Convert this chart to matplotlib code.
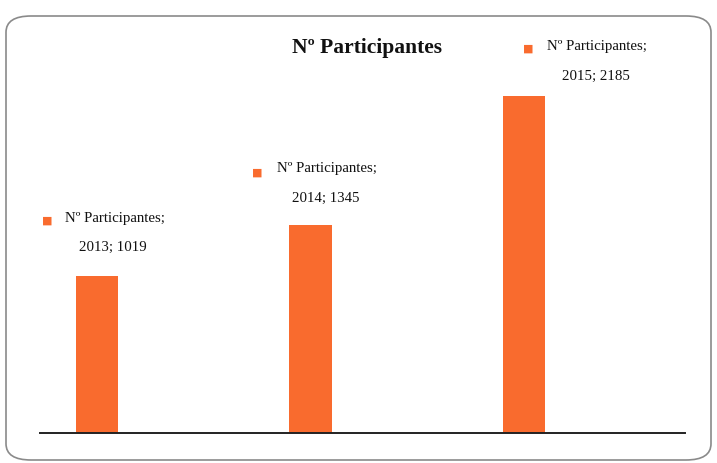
import matplotlib.pyplot as plt
from matplotlib.patches import FancyBboxPatch

# data
years = ['2013', '2014', '2015']
participants = [1019, 1345, 2185]
series_name = 'Nº Participantes'

orange = '#F96B2E'
serif = ['Liberation Serif', 'DejaVu Serif']

fig = plt.figure(figsize=(7.17, 4.64), dpi=100)

# rounded frame around the chart
frame = FancyBboxPatch((6 / 717, 3 / 464), 705 / 717, 444 / 464,
                       boxstyle='round,pad=0,rounding_size=0.035',
                       transform=fig.transFigure, fill=False,
                       edgecolor='#8a8a8a', linewidth=1.2)
fig.patches.append(frame)

ax = fig.add_axes([40 / 717, 30 / 464, 645 / 717, 386 / 464])
x = list(range(len(years)))
ax.bar(x, participants, width=0.197, color=orange, zorder=2)
ax.set_xlim(-0.267, 2.754)
ax.set_ylim(0, 2500)
for s in ['top', 'right', 'left']:
    ax.spines[s].set_visible(False)
ax.spines['bottom'].set_linewidth(1.4)
ax.spines['bottom'].set_color('#222222')
ax.set_xticks([])
ax.set_yticks([])

fig.text(367 / 717, 1 - 48 / 464, series_name, ha='center', va='center',
         fontsize=15.5, fontweight='bold', family=serif, color='#111111')

# label offsets in pixels from bar top: square dx/dy, first line dx/dy, second line dx/dy
offs = [
    (-50, 56, 18, 58, 16, 29),
    (-53, 54, 16, 58, 15, 28),
    (4, 48, 73, 50, 72, 20),
]
k = 0.72  # px -> points at 100 dpi
for i, (yr, v) in enumerate(zip(years, participants)):
    sqx, sqy, t1x, t1y, t2x, t2y = offs[i]
    ax.annotate('■', xy=(i, v), xytext=(sqx * k, sqy * k),
                textcoords='offset points', ha='center', va='center',
                fontsize=8, color=orange, family=['DejaVu Sans'])
    ax.annotate(series_name + ';', xy=(i, v), xytext=(t1x * k, t1y * k),
                textcoords='offset points', ha='center', va='center',
                fontsize=10.7, family=serif, color='#111111')
    ax.annotate(f'{yr}; {v}', xy=(i, v), xytext=(t2x * k, t2y * k),
                textcoords='offset points', ha='center', va='center',
                fontsize=10.7, family=serif, color='#111111')

fig.savefig('out.png', dpi=100)
